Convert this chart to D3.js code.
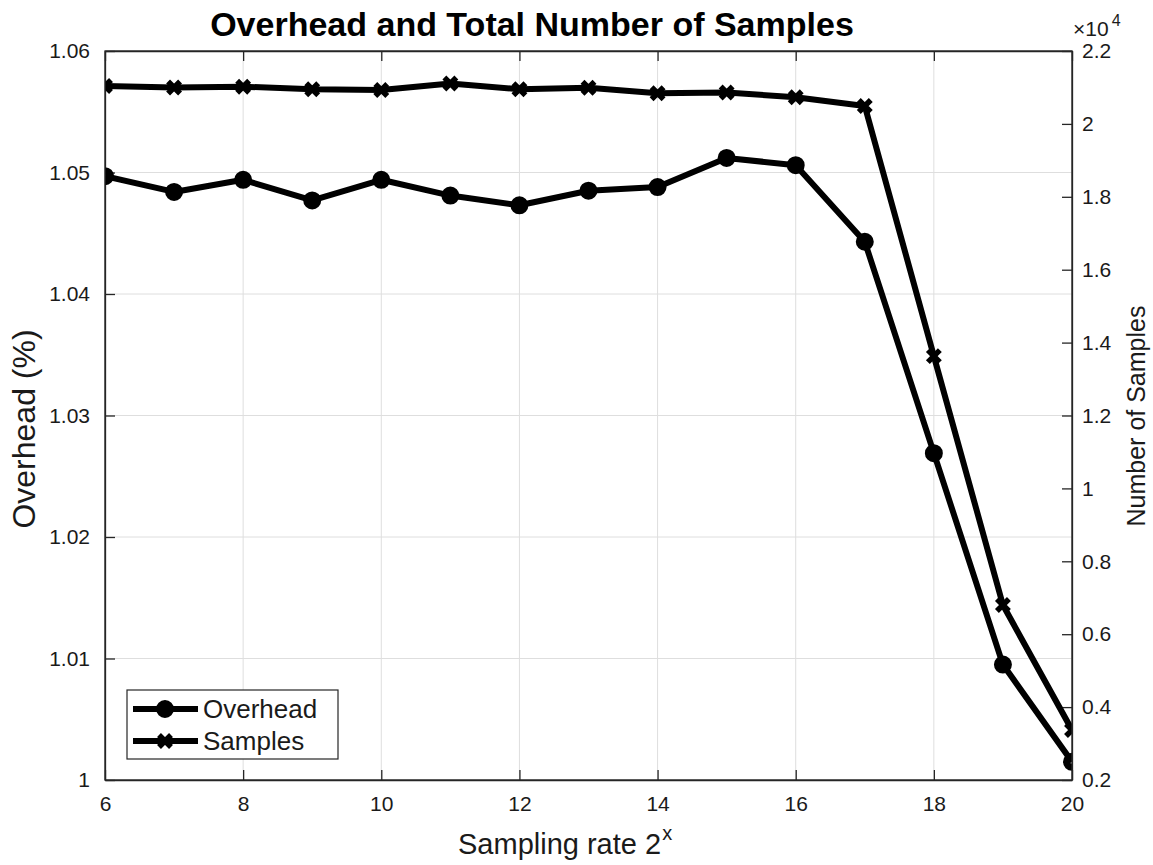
<!DOCTYPE html>
<html>
<head>
<meta charset="utf-8">
<script src="https://cdn.jsdelivr.net/npm/d3@7"></script>
<style>
    body { margin: 0; background: #fff; }
    svg { display: block; font-family: "Liberation Sans", Arial, sans-serif; }
    .grid line { stroke: #dedede; stroke-width: 1; }
    .tick text { fill: #1a1a1a; }
</style>
</head>
<body>
<div class="chart"></div>
<script>
// sampling rate exponents
const rates = [6, 7, 8, 9, 10, 11, 12, 13, 14, 15, 16, 17, 18, 19, 20]
// overhead (%), left axis
const overhead = [1.0497, 1.0484, 1.0494, 1.0477, 1.0494, 1.0481, 1.0473, 1.0485, 1.0488, 1.0512, 1.0506, 1.0443, 1.0269, 1.0095, 1.0015]
// total number of samples, right axis
const samples = [21040, 21000, 21020, 20950, 20930, 21110, 20950, 20990, 20840, 20860, 20730, 20490, 13630, 6800, 3370]

const xTicks = [6, 8, 10, 12, 14, 16, 18, 20]
const leftTicks = [1, 1.01, 1.02, 1.03, 1.04, 1.05, 1.06]
const rightTicks = [2000, 4000, 6000, 8000, 10000, 12000, 14000, 16000, 18000, 20000, 22000]
const seriesNames = ['Overhead', 'Samples']

const width = 1153
const height = 865
const plot = { left: 105, right: 1072, top: 51, bottom: 780 }
const axisColor = '#262626'
const tickLen = 10

const svg = d3.select('.chart').append('svg')
    .attr('width', width).attr('height', height)
    .attr('xmlns', 'http://www.w3.org/2000/svg')

const x = d3.scaleLinear().domain([6, 20]).range([plot.left, plot.right])
const yLeft = d3.scaleLinear().domain([1, 1.06]).range([plot.bottom, plot.top])
const yRight = d3.scaleLinear().domain([2000, 22000]).range([plot.bottom, plot.top])

// grid
const grid = svg.append('g').attr('class', 'grid')
grid.selectAll('.gx').data(xTicks).enter().append('line')
    .attr('x1', d => x(d)).attr('x2', d => x(d))
    .attr('y1', plot.top).attr('y2', plot.bottom)
grid.selectAll('.gy').data(leftTicks).enter().append('line')
    .attr('x1', plot.left).attr('x2', plot.right)
    .attr('y1', d => yLeft(d)).attr('y2', d => yLeft(d))

// axes (ticks pointing inward, like matlab)
const fmtLeft = d3.format('~g')
const fmtRight = d => String(+(d / 10000).toFixed(1))

const bottomAxis = svg.append('g').attr('transform', `translate(0,${plot.bottom})`)
    .call(d3.axisBottom(x).tickValues(xTicks).tickSizeInner(-tickLen).tickSizeOuter(0).tickPadding(16))
const topAxis = svg.append('g').attr('transform', `translate(0,${plot.top})`)
    .call(d3.axisTop(x).tickValues(xTicks).tickSizeInner(-tickLen).tickSizeOuter(0).tickFormat(''))
const leftAxis = svg.append('g').attr('transform', `translate(${plot.left},0)`)
    .call(d3.axisLeft(yLeft).tickValues(leftTicks).tickFormat(fmtLeft).tickSizeInner(-tickLen).tickSizeOuter(0).tickPadding(15))
const rightAxis = svg.append('g').attr('transform', `translate(${plot.right},0)`)
    .call(d3.axisRight(yRight).tickValues(rightTicks).tickFormat(fmtRight).tickSizeInner(-tickLen).tickSizeOuter(0).tickPadding(10))

for (const ax of [bottomAxis, topAxis, leftAxis, rightAxis]) {
    ax.attr('font-family', null).attr('font-size', null)
    ax.select('.domain').attr('stroke', axisColor).attr('stroke-width', 1.3)
    ax.selectAll('.tick line').attr('stroke', axisColor).attr('stroke-width', 1.3)
    ax.selectAll('.tick text').style('font-size', '21px')
}
bottomAxis.selectAll('.tick text').attr('dy', '0.71em')

// clipped series
svg.append('clipPath').attr('id', 'plot-clip').append('rect')
    .attr('x', plot.left).attr('y', plot.top)
    .attr('width', plot.right - plot.left).attr('height', plot.bottom - plot.top)
const area = svg.append('g').attr('clip-path', 'url(#plot-clip)')

const crossPath = 'M-6,-6L6,6M-6,6L6,-6'

function drawCircle(sel) {
    sel.append('circle').attr('r', 5.5).attr('fill', 'none')
        .attr('stroke', '#000').attr('stroke-width', 7)
}
function drawCross(sel) {
    sel.append('path').attr('d', crossPath).attr('fill', 'none')
        .attr('stroke', '#000').attr('stroke-width', 5.5)
}

const overheadLine = d3.line().x((d, i) => x(rates[i])).y(d => yLeft(d))
const samplesLine = d3.line().x((d, i) => x(rates[i])).y(d => yRight(d))

area.append('path').datum(overhead).attr('d', overheadLine)
    .attr('fill', 'none').attr('stroke', '#000').attr('stroke-width', 6).attr('stroke-linejoin', 'round')
area.selectAll('.m-over').data(overhead).enter().append('g')
    .attr('transform', (d, i) => `translate(${x(rates[i])},${yLeft(d)})`)
    .call(drawCircle)

area.append('path').datum(samples).attr('d', samplesLine)
    .attr('fill', 'none').attr('stroke', '#000').attr('stroke-width', 6).attr('stroke-linejoin', 'round')
area.selectAll('.m-samp').data(samples).enter().append('g')
    .attr('transform', (d, i) => `translate(${x(rates[i])},${yRight(d)})`)
    .call(drawCross)

// box lines on top
svg.append('rect').attr('x', plot.left).attr('y', plot.top)
    .attr('width', plot.right - plot.left).attr('height', plot.bottom - plot.top)
    .attr('fill', 'none').attr('stroke', axisColor).attr('stroke-width', 1.3)

// exponent label on right axis
const expo = svg.append('text').attr('x', 1073).attr('y', 36).attr('fill', '#1a1a1a').style('font-size', '21px')
expo.append('tspan').text('×10')
expo.append('tspan').attr('dy', -10).attr('dx', 3).style('font-size', '16px').text('4')

// titles and labels
svg.append('text').attr('x', 532).attr('y', 36).attr('text-anchor', 'middle')
    .style('font-size', '34px').style('font-weight', 'bold').attr('fill', '#000')
    .text('Overhead and Total Number of Samples')

const xLabel = svg.append('text').attr('x', 458).attr('y', 854).attr('fill', '#1a1a1a').style('font-size', '29px')
xLabel.append('tspan').text('Sampling rate 2')
xLabel.append('tspan').attr('dy', -14).attr('dx', 1).style('font-size', '20px').text('x')

svg.append('text').attr('transform', 'translate(35,429) rotate(-90)').attr('text-anchor', 'middle')
    .attr('fill', '#1a1a1a').style('font-size', '32px').text('Overhead (%)')

svg.append('text').attr('transform', 'translate(1145,416) rotate(-90)').attr('text-anchor', 'middle')
    .attr('fill', '#1a1a1a').style('font-size', '25px').text('Number of Samples')

// legend
const legend = svg.append('g')
legend.append('rect').attr('x', 127).attr('y', 690).attr('width', 211).attr('height', 69)
    .attr('fill', '#fff').attr('stroke', axisColor).attr('stroke-width', 1.2)
const rows = legend.selectAll('.row').data(seriesNames).enter().append('g')
    .attr('transform', (d, i) => `translate(0,${709 + i * 32})`)
rows.append('line').attr('x1', 133).attr('x2', 198).attr('stroke', '#000').attr('stroke-width', 6)
rows.append('g').attr('transform', 'translate(165,0)')
    .each(function (d, i) { i === 0 ? drawCircle(d3.select(this)) : drawCross(d3.select(this)) })
rows.append('text').attr('x', 203).attr('y', 9).attr('fill', '#1a1a1a').style('font-size', '26px').text(d => d)
</script>
</body>
</html>
